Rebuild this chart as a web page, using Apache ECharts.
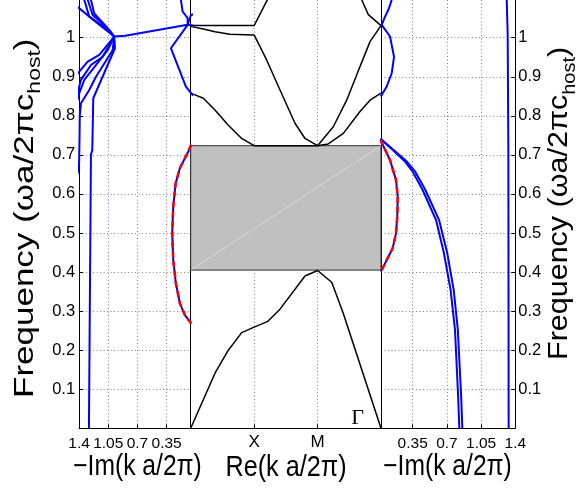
<!DOCTYPE html>
<html><head><meta charset="utf-8">
<script src="https://cdn.jsdelivr.net/npm/echarts@6/dist/echarts.min.js"></script>
<style>html,body{margin:0;padding:0;background:#fff}#c{width:577px;height:488px}</style>
</head><body><div id="c"></div>
<script>
// ---------- tick labels ----------
const imTicks = [0.35, 0.7, 1.05, 1.4];
const freqTicks = [0.1, 0.2, 0.3, 0.4, 0.5, 0.6, 0.7, 0.8, 0.9, 1.0];
const pathTicks = [1, 2];
const pathNames = ['X', 'M'];
const gammaLabel = 'Γ';
const gapLow = 0.405, gapHigh = 0.7235;

// ---------- middle panel: Re(k) band structure (Γ=0, X=1, M=2, Γ=3) ----------
const band1 = [[0,0],[0.383,0.141],[0.593,0.200],[0.804,0.245],[1.0,0.259],[1.208,0.273],[1.408,0.305],[1.802,0.390],[2.0,0.404],[2.223,0.374],[2.406,0.294],[3,0]];
const band2 = [[0,0.858],[0.199,0.845],[0.383,0.815],[0.593,0.776],[0.804,0.742],[1.0,0.7235],[2.0,0.7235],[2.169,0.728],[2.406,0.755],[2.669,0.811],[2.827,0.840],[3,0.858]];
const band3 = [[0,1.029],[0.199,1.022],[0.383,1.015],[0.620,1.009],[1.0,1.007],[1.197,0.943],[1.408,0.866],[1.644,0.781],[1.802,0.742],[2.0,0.7235],[2.248,0.772],[2.459,0.840],[2.669,0.926],[2.827,0.990],[3,1.031]];
const band4 = [[0,1.031],[1.0,1.031],[1.208,1.097],[1.25,1.11]];
const band5 = [[2.65,1.11],[2.696,1.097],[2.80,1.059],[3,1.031]];

// ---------- left panel: -Im(k) ----------
const leftDash = [[0.055,0.726],[0.071,0.721],[0.091,0.708],[0.191,0.666],[0.242,0.627],[0.271,0.567],[0.283,0.499],[0.271,0.431],[0.239,0.371],[0.191,0.320],[0.131,0.290],[0.071,0.273],[0.055,0.268]];
const leftA = [[1.45,1.085],[1.398,1.075],[1.158,1.033],[0.978,1.003],[1.158,0.956],[1.297,0.939],[1.398,0.913],[1.45,0.90]];
const leftB = [[1.36,1.11],[1.338,1.097],[1.278,1.054],[1.138,1.033],[0.978,1.003],[1.118,0.951],[1.258,0.930],[1.378,0.892],[1.398,0.875],[1.42,0.85]];
const leftC = [[1.31,1.11],[1.297,1.097],[1.237,1.058],[1.078,1.028],[0.978,1.003],[1.058,0.968],[1.198,0.930],[1.338,0.892],[1.398,0.858],[1.42,0.84]];
const leftD = [[1.27,1.11],[1.258,1.097],[1.218,1.062],[1.038,1.02],[0.978,1.003],[0.998,0.968],[1.198,0.900],[1.278,0.866],[1.378,0.832],[1.392,0.80],[1.395,0.74],[1.40,0.68],[1.42,0.65]];
const leftE = [[0.978,1.003],[0.970,0.973],[1.230,0.845],[1.242,0.712],[1.258,0.700],[1.282,0]];
const leftF = [[0.978,1.003],[0.847,1.005],[0.098,1.033],[0.03,1.031]];
const leftG = [[0.19,1.11],[0.179,1.097],[0.158,1.067],[0.098,1.05],[0.098,1.033],[0.299,0.973],[0.119,0.875],[0.038,0.853],[0.0,0.85]];
const leftH = [[0.03,1.06],[0.059,1.058],[0.098,1.033]];

// ---------- right panel: -Im(k) ----------
const rightA = [[0.14,1.11],[0.135,1.097],[0.124,1.088],[0.100,1.071],[0.067,1.054],[0.033,1.033],[0.118,1.003],[0.159,0.951],[0.135,0.909],[0.084,0.875],[0.033,0.853],[0.02,0.85]];
const rightDash = [[0.02,0.738],[0.033,0.734],[0.118,0.687],[0.179,0.636],[0.197,0.593],[0.192,0.542],[0.179,0.499],[0.145,0.461],[0.084,0.431],[0.033,0.405],[0.02,0.402]];
const rightC1 = [[0.02,0.742],[0.033,0.738],[0.152,0.711],[0.271,0.683],[0.35,0.657],[0.452,0.610],[0.589,0.533],[0.670,0.448],[0.738,0.354],[0.783,0.252],[0.815,0.081],[0.827,0]];
const rightC2 = [[0.033,0.738],[0.158,0.712],[0.290,0.683],[0.376,0.657],[0.480,0.610],[0.620,0.533],[0.704,0.448],[0.770,0.354],[0.812,0.252],[0.846,0.081],[0.858,0]];
const rightD = [[1.312,1.11],[1.312,1.097],[1.322,1.01],[1.329,0.70],[1.332,0]];

// ---------- build ----------
const FONT = 'Liberation Sans';
const BLUE = '#0000ff', RED = '#ff0000';
const grid = { color: '#808080', width: 1, type: [1, 2.5] };
const fMin = 0, fMax = 1.0965;

function ln(data, i, color, width, extra) {
  return Object.assign({
    type: 'line', xAxisIndex: i, yAxisIndex: i, data: data, symbol: 'none', showSymbol: false,
    lineStyle: { color: color, width: width }, silent: true, animation: false, z: 3
  }, extra || {});
}

const axLine = { show: true, onZero: false, lineStyle: { color: '#000', width: 1 } };

const option = {
  animation: false,
  backgroundColor: '#fff',
  textStyle: { fontFamily: FONT },
  grid: [
    { left: 79.1, top: 0, width: 111.6, height: 428.3, outerBoundsMode: 'none' },
    { left: 190.7, top: 0, width: 190.3, height: 428.3, outerBoundsMode: 'none' },
    { left: 381, top: 0, width: 134.3, height: 428.3, outerBoundsMode: 'none' }
  ],
  xAxis: [
    { type: 'value', gridIndex: 0, min: 0.0613, max: 1.4, inverse: true, axisLine: axLine,
      axisTick: { inside: true, length: 4, lineStyle: { color: '#000' }, customValues: imTicks },
      axisLabel: { customValues: imTicks, color: '#000', fontSize: 15.5, margin: 7, fontFamily: FONT },
      splitLine: { show: true, lineStyle: grid } },
    { type: 'value', gridIndex: 1, min: 0, max: 3, axisLine: axLine,
      axisTick: { inside: true, length: 4, lineStyle: { color: '#000' }, customValues: pathTicks },
      axisLabel: { customValues: pathTicks, color: '#000', fontSize: 17, margin: 6, fontFamily: FONT,
        formatter: function (v) { return pathNames[pathTicks.indexOf(Math.round(v))] || ''; } },
      splitLine: { show: true, lineStyle: grid } },
    { type: 'value', gridIndex: 2, min: 0.0256, max: 1.4, axisLine: axLine,
      axisTick: { inside: true, length: 4, lineStyle: { color: '#000' }, customValues: imTicks },
      axisLabel: { customValues: imTicks, color: '#000', fontSize: 15.5, margin: 7, fontFamily: FONT },
      splitLine: { show: true, lineStyle: grid } }
  ],
  yAxis: [
    { type: 'value', gridIndex: 0, position: 'left', min: fMin, max: fMax, axisLine: axLine,
      axisTick: { inside: true, length: 4, lineStyle: { color: '#000' }, customValues: freqTicks },
      axisLabel: { customValues: freqTicks, color: '#000', fontSize: 16.5, margin: 4, fontFamily: FONT },
      splitLine: { show: true, lineStyle: grid } },
    { type: 'value', gridIndex: 1, position: 'left', min: fMin, max: fMax, axisLine: axLine,
      axisTick: { show: false }, axisLabel: { show: false }, splitLine: { show: false } },
    { type: 'value', gridIndex: 2, position: 'right', min: fMin, max: fMax, axisLine: axLine,
      axisTick: { inside: true, length: 4, lineStyle: { color: '#000' }, customValues: freqTicks },
      axisLabel: { customValues: freqTicks, color: '#000', fontSize: 16.5, margin: 3, fontFamily: FONT },
      splitLine: { show: true, lineStyle: grid } },
    { type: 'value', gridIndex: 1, position: 'right', min: fMin, max: fMax, axisLine: axLine,
      axisTick: { show: false }, axisLabel: { show: false }, splitLine: { show: false } }
  ],
  series: [
    // gap
    ln([], 1, '#000', 1, { markArea: { silent: true, itemStyle: { color: '#c0c0c0', borderColor: '#333', borderWidth: 1 },
      data: [[{ xAxis: 0, yAxis: gapLow }, { xAxis: 3, yAxis: gapHigh }]] }, z: 2 }),
    ln([[0, gapLow], [3, gapHigh]], 1, 'rgba(255,255,255,0.4)', 1, { z: 2.5 }),
    ln(band1, 1, '#000', 1.5), ln(band2, 1, '#000', 1.5), ln(band3, 1, '#000', 1.5),
    ln(band4, 1, '#000', 1.5), ln(band5, 1, '#000', 1.5),
    // left
    ln(leftA, 0, BLUE, 2), ln(leftB, 0, BLUE, 2), ln(leftC, 0, BLUE, 2), ln(leftD, 0, BLUE, 2),
    ln(leftE, 0, BLUE, 2), ln(leftF, 0, BLUE, 2), ln(leftG, 0, BLUE, 2), ln(leftH, 0, BLUE, 2),
    ln(leftDash, 0, BLUE, 2),
    ln(leftDash, 0, RED, 2.6, { lineStyle: { color: RED, width: 2.6, type: [6, 4] }, z: 4 }),
    // right
    ln(rightA, 2, BLUE, 2), ln(rightC1, 2, BLUE, 2), ln(rightC2, 2, BLUE, 2), ln(rightD, 2, BLUE, 2),
    ln(rightDash, 2, BLUE, 2),
    ln(rightDash, 2, RED, 2.6, { lineStyle: { color: RED, width: 2.6, type: [6, 4] }, z: 4 })
  ]
};

// ---------- text (axis titles) ----------
function measure(txt, font) {
  const ctx = document.createElement('canvas').getContext('2d');
  ctx.font = font; return ctx.measureText(txt).width;
}
function vLabel(bx, by, fs, sfs, drop, sc) {
  const main = 'Frequency (ωa/2πc', sub = 'host', close = ')';
  const f1 = fs + 'px "' + FONT + '"', f2 = sfs + 'px "' + FONT + '"';
  const w1 = measure(main, f1), w2 = measure(sub, f2);
  return { type: 'group', x: bx, y: by, rotation: Math.PI / 2, scaleY: sc, silent: true, children: [
    { type: 'text', x: 0, y: -0.31 * fs, style: { text: main, font: f1, fill: '#000', align: 'left', verticalAlign: 'middle' } },
    { type: 'text', x: w1, y: drop - 0.31 * sfs, style: { text: sub, font: f2, fill: '#000', align: 'left', verticalAlign: 'middle' } },
    { type: 'text', x: w1 + w2, y: -0.31 * fs, style: { text: close, font: f1, fill: '#000', align: 'left', verticalAlign: 'middle' } }
  ] };
}
function hLabel(cx, cy, txt, fs, sc) {
  return { type: 'text', x: cx, y: cy, scaleX: sc, silent: true,
    style: { text: txt, font: fs + 'px "' + FONT + '"', fill: '#000', align: 'center', verticalAlign: 'middle' } };
}
option.graphic = { elements: [
  hLabel(137.5, 467, '−Im(k a/2π)', 29, 0.85),
  hLabel(286, 468, 'Re(k a/2π)', 29, 0.87),
  hLabel(447.5, 467, '−Im(k a/2π)', 29, 0.85),
  vLabel(34, 398, 35, 23, 9, 0.78),
  vLabel(568, 360, 30.5, 20, 8, 0.9),
  { type: 'text', x: 357.5, y: 418, silent: true,
    style: { text: gammaLabel, font: '22px "Liberation Serif"', fill: '#000', align: 'center', verticalAlign: 'middle' } }
] };

const chart = echarts.init(document.getElementById('c'), null, { renderer: 'canvas' });
chart.setOption(option);
</script>
</body></html>
